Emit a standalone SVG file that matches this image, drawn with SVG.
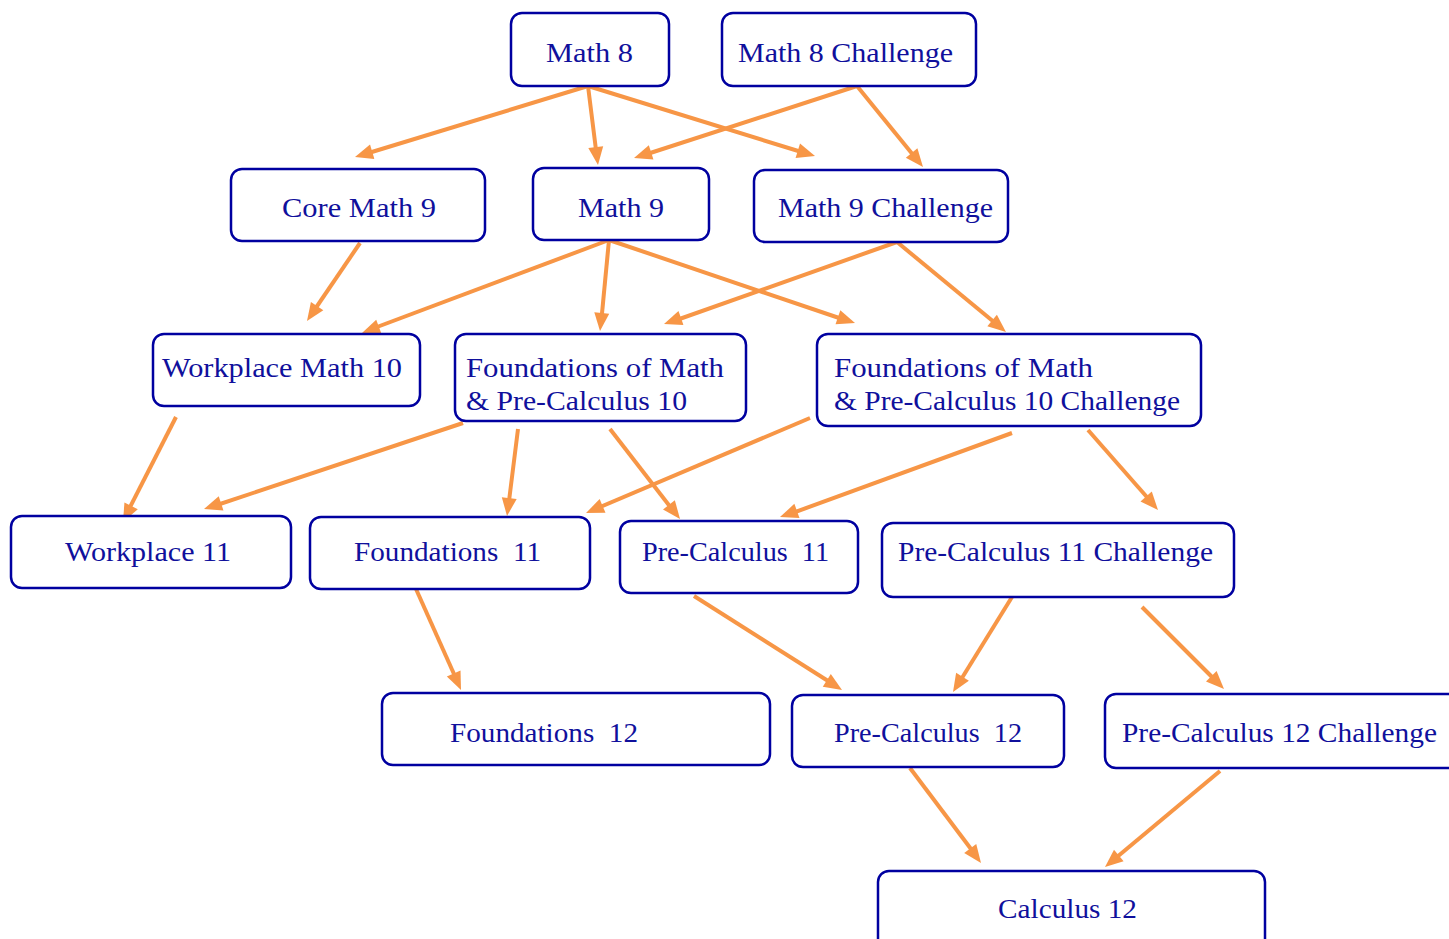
<svg xmlns="http://www.w3.org/2000/svg" width="1449" height="939" viewBox="0 0 1449 939">
<style>
.box{fill:#fff;stroke:#0000a0;stroke-width:2.5}
text{font-family:"Liberation Serif",serif;font-size:28px;fill:#10109c}
.c line{stroke:#f79646;stroke-width:4}
.c use{fill:#f79646}
</style>
<defs>
<path id="hd" d="M0,0 L-18,-7.5 L-18,7.5 z"/>
</defs>
<rect width="1449" height="939" fill="#fff"/>
<g class="c" id="connectors">
<line x1="588" y1="86" x2="362" y2="155"/><use href="#hd" transform="translate(355,157) rotate(163.0)"/>
<line x1="588" y1="86" x2="597" y2="158"/><use href="#hd" transform="translate(598,165) rotate(82.8)"/>
<line x1="588" y1="86" x2="808" y2="154"/><use href="#hd" transform="translate(815,156) rotate(17.1)"/>
<line x1="857" y1="86" x2="641" y2="156"/><use href="#hd" transform="translate(634,158) rotate(162.1)"/>
<line x1="857" y1="86" x2="918" y2="161"/><use href="#hd" transform="translate(923,167) rotate(50.8)"/>
<line x1="360" y1="243" x2="311" y2="315"/><use href="#hd" transform="translate(307,321) rotate(124.2)"/>
<line x1="609" y1="240" x2="369" y2="330"/><use href="#hd" transform="translate(362,333) rotate(159.4)"/>
<line x1="609" y1="240" x2="601" y2="324"/><use href="#hd" transform="translate(600,331) rotate(95.6)"/>
<line x1="609" y1="240" x2="848" y2="321"/><use href="#hd" transform="translate(855,323) rotate(18.6)"/>
<line x1="897" y1="242" x2="671" y2="322"/><use href="#hd" transform="translate(664,324) rotate(160.6)"/>
<line x1="897" y1="242" x2="1000" y2="327"/><use href="#hd" transform="translate(1006,332) rotate(39.5)"/>
<line x1="176" y1="417" x2="126" y2="515"/><use href="#hd" transform="translate(123,522) rotate(116.8)"/>
<line x1="463" y1="423" x2="211" y2="507"/><use href="#hd" transform="translate(204,509) rotate(161.6)"/>
<line x1="518" y1="429" x2="508" y2="509"/><use href="#hd" transform="translate(507,516) rotate(97.2)"/>
<line x1="610" y1="429" x2="675" y2="513"/><use href="#hd" transform="translate(680,519) rotate(52.1)"/>
<line x1="810" y1="418" x2="593" y2="510"/><use href="#hd" transform="translate(586,513) rotate(157.0)"/>
<line x1="1012" y1="433" x2="787" y2="515"/><use href="#hd" transform="translate(780,517) rotate(160.1)"/>
<line x1="1088" y1="430" x2="1153" y2="504"/><use href="#hd" transform="translate(1158,510) rotate(48.8)"/>
<line x1="416" y1="589" x2="458" y2="683"/><use href="#hd" transform="translate(461,690) rotate(66.0)"/>
<line x1="694" y1="596" x2="836" y2="686"/><use href="#hd" transform="translate(842,690) rotate(32.4)"/>
<line x1="1012" y1="597" x2="957" y2="686"/><use href="#hd" transform="translate(953,692) rotate(121.8)"/>
<line x1="1142" y1="607" x2="1219" y2="684"/><use href="#hd" transform="translate(1224,689) rotate(45.0)"/>
<line x1="910" y1="768" x2="977" y2="857"/><use href="#hd" transform="translate(981,863) rotate(53.2)"/>
<line x1="1220" y1="771" x2="1111" y2="862"/><use href="#hd" transform="translate(1105,867) rotate(140.1)"/>
</g>
<g id="math8"><rect class="box" x="511" y="13" width="158" height="73" rx="11"/><text x="546" y="62" textLength="87" lengthAdjust="spacingAndGlyphs">Math 8</text></g>
<g id="math8c"><rect class="box" x="722" y="13" width="254" height="73" rx="11"/><text x="738" y="62" textLength="215" lengthAdjust="spacingAndGlyphs">Math 8 Challenge</text></g>
<g id="coremath9"><rect class="box" x="231" y="169" width="254" height="72" rx="11"/><text x="282" y="217" textLength="154" lengthAdjust="spacingAndGlyphs">Core Math 9</text></g>
<g id="math9"><rect class="box" x="533" y="168" width="176" height="72" rx="11"/><text x="578" y="217" textLength="86" lengthAdjust="spacingAndGlyphs">Math 9</text></g>
<g id="math9c"><rect class="box" x="754" y="170" width="254" height="72" rx="11"/><text x="778" y="217" textLength="215" lengthAdjust="spacingAndGlyphs">Math 9 Challenge</text></g>
<g id="wm10"><rect class="box" x="153" y="334" width="267" height="72" rx="11"/><text x="162" y="377" textLength="240" lengthAdjust="spacingAndGlyphs">Workplace Math 10</text></g>
<g id="fpc10"><rect class="box" x="455" y="334" width="291" height="87" rx="11"/><text x="466" y="377" textLength="258" lengthAdjust="spacingAndGlyphs">Foundations of Math</text><text x="466" y="410" textLength="221" lengthAdjust="spacingAndGlyphs">&amp; Pre-Calculus 10</text></g>
<g id="fpc10c"><rect class="box" x="817" y="334" width="384" height="92" rx="11"/><text x="834" y="377" textLength="259" lengthAdjust="spacingAndGlyphs">Foundations of Math</text><text x="834" y="410" textLength="346" lengthAdjust="spacingAndGlyphs">&amp; Pre-Calculus 10 Challenge</text></g>
<g id="w11"><rect class="box" x="11" y="516" width="280" height="72" rx="11"/><text x="65" y="561" textLength="166" lengthAdjust="spacingAndGlyphs">Workplace 11</text></g>
<g id="f11"><rect class="box" x="310" y="517" width="280" height="72" rx="11"/><text x="354" y="561" textLength="187" lengthAdjust="spacingAndGlyphs" xml:space="preserve">Foundations  11</text></g>
<g id="pc11"><rect class="box" x="620" y="521" width="238" height="72" rx="11"/><text x="642" y="561" textLength="187" lengthAdjust="spacingAndGlyphs" xml:space="preserve">Pre-Calculus  11</text></g>
<g id="pc11c"><rect class="box" x="882" y="523" width="352" height="74" rx="11"/><text x="898" y="561" textLength="315" lengthAdjust="spacingAndGlyphs">Pre-Calculus 11 Challenge</text></g>
<g id="f12"><rect class="box" x="382" y="693" width="388" height="72" rx="11"/><text x="450" y="742" textLength="188" lengthAdjust="spacingAndGlyphs" xml:space="preserve">Foundations  12</text></g>
<g id="pc12"><rect class="box" x="792" y="695" width="272" height="72" rx="11"/><text x="834" y="742" textLength="188" lengthAdjust="spacingAndGlyphs" xml:space="preserve">Pre-Calculus  12</text></g>
<g id="pc12c"><rect class="box" x="1105" y="694" width="360" height="74" rx="11"/><text x="1122" y="742" textLength="315" lengthAdjust="spacingAndGlyphs">Pre-Calculus 12 Challenge</text></g>
<g id="calc12"><rect class="box" x="878" y="871" width="387" height="90" rx="11"/><text x="998" y="918" textLength="139" lengthAdjust="spacingAndGlyphs">Calculus 12</text></g>
</svg>
